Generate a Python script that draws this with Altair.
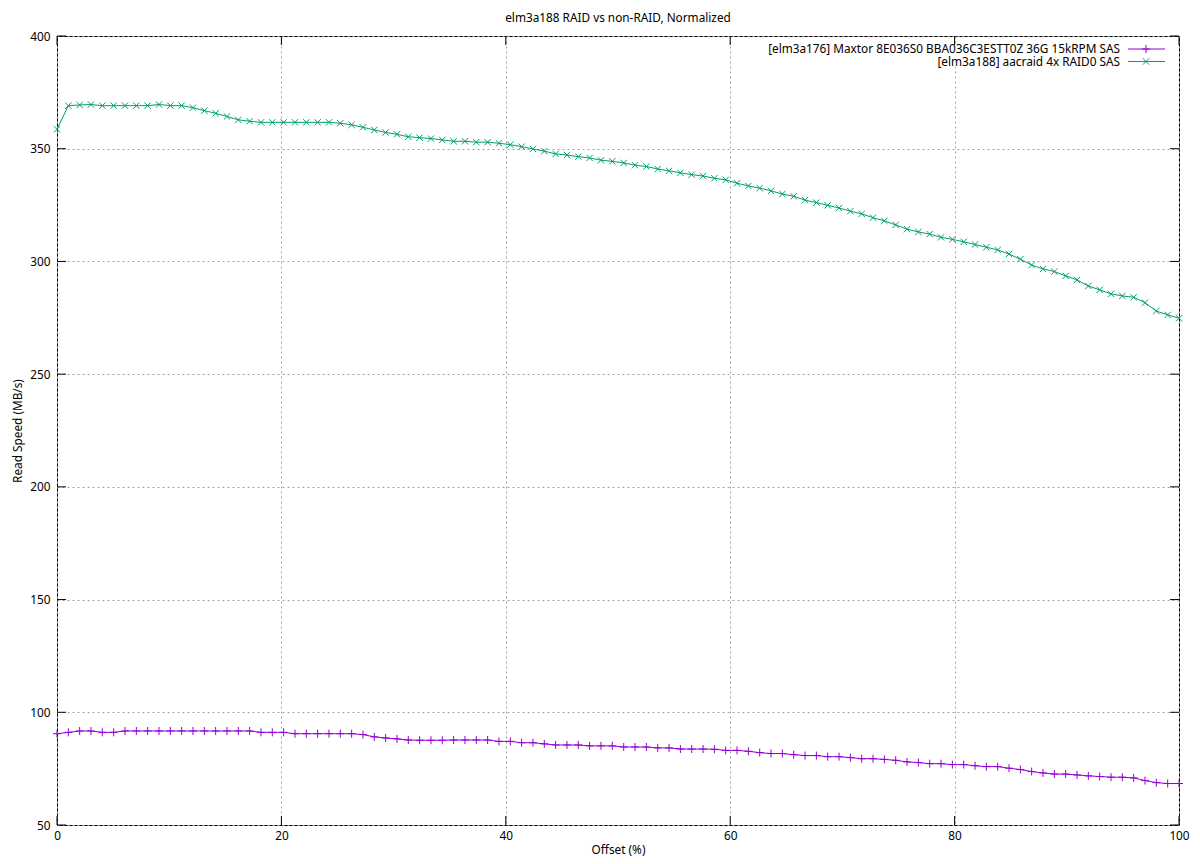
import altair as alt
import pandas as pd

TITLE = "elm3a188 RAID vs non-RAID, Normalized"
X_TITLE = "Offset (%)"
Y_TITLE = "Read Speed (MB/s)"

SERIES = [
    "[elm3a176] Maxtor 8E036S0 BBA036C3ESTT0Z 36G 15kRPM SAS",
    "[elm3a188] aacraid 4x RAID0 SAS",
]
COLORS = ["#9400d3", "#009e73"]

offsets = [
    0, 1.01, 2.02, 3.03, 4.04, 5.05, 6.06, 7.07, 8.08, 9.09,
    10.10, 11.11, 12.12, 13.13, 14.14, 15.15, 16.16, 17.17, 18.18, 19.19,
    20.20, 21.21, 22.22, 23.23, 24.24, 25.25, 26.26, 27.27, 28.28, 29.29,
    30.30, 31.31, 32.32, 33.33, 34.34, 35.35, 36.36, 37.37, 38.38, 39.39,
    40.40, 41.41, 42.42, 43.43, 44.44, 45.45, 46.46, 47.47, 48.48, 49.49,
    50.51, 51.52, 52.53, 53.54, 54.55, 55.56, 56.57, 57.58, 58.59, 59.60,
    60.61, 61.62, 62.63, 63.64, 64.65, 65.66, 66.67, 67.68, 68.69, 69.70,
    70.71, 71.72, 72.73, 73.74, 74.75, 75.76, 76.77, 77.78, 78.79, 79.80,
    80.81, 81.82, 82.83, 83.84, 84.85, 85.86, 86.87, 87.88, 88.89, 89.90,
    90.91, 91.92, 92.93, 93.94, 94.95, 95.96, 96.97, 97.98, 98.99, 100,
]

maxtor_speed = [
    90.5, 91.1, 91.7, 91.7, 91.1, 91.1, 91.7, 91.7, 91.7, 91.7,
    91.7, 91.7, 91.7, 91.7, 91.7, 91.7, 91.7, 91.7, 91.1, 91.1,
    91.1, 90.5, 90.5, 90.5, 90.5, 90.5, 90.5, 90.1, 89.1, 88.6,
    88.2, 87.7, 87.6, 87.6, 87.6, 87.7, 87.7, 87.7, 87.7, 87.1,
    87.1, 86.5, 86.5, 86.0, 85.5, 85.5, 85.5, 85.1, 85.1, 85.1,
    84.6, 84.6, 84.6, 84.2, 84.2, 83.7, 83.7, 83.7, 83.6, 83.1,
    83.1, 82.7, 82.1, 81.7, 81.7, 81.2, 80.8, 80.8, 80.3, 80.3,
    79.9, 79.4, 79.4, 79.1, 78.7, 78.0, 77.7, 77.2, 77.2, 76.8,
    76.8, 76.3, 75.9, 75.9, 75.2, 74.6, 73.7, 73.1, 72.6, 72.6,
    72.2, 71.8, 71.5, 71.2, 71.2, 70.9, 69.7, 68.8, 68.4, 68.4,
]

raid_speed = [
    358.6, 369.1, 369.4, 369.6, 369.1, 369.1, 369.1, 369.1, 369.1, 369.6,
    369.1, 369.1, 368.2, 366.9, 365.7, 364.3, 362.8, 362.2, 361.7, 361.7,
    361.7, 361.7, 361.7, 361.7, 361.7, 361.3, 360.6, 359.5, 358.3, 357.2,
    356.4, 355.3, 354.9, 354.5, 353.9, 353.3, 353.3, 352.9, 352.9, 352.4,
    351.8, 350.9, 349.9, 348.9, 347.7, 347.2, 346.5, 345.9, 344.9, 344.4,
    343.7, 342.7, 342.1, 341.0, 340.2, 339.3, 338.5, 337.9, 336.9, 336.2,
    334.7, 333.5, 332.5, 331.3, 329.9, 328.9, 327.2, 326.1, 324.9, 323.7,
    322.3, 321.1, 319.4, 318.0, 316.2, 314.3, 313.1, 312.1, 310.7, 309.8,
    308.7, 307.5, 306.3, 305.1, 303.3, 301.0, 298.4, 296.7, 295.5, 293.6,
    291.8, 289.1, 287.4, 285.6, 284.7, 284.1, 281.7, 278.0, 276.3, 274.8,
]

x_ticks = [0, 20, 40, 60, 80, 100]
y_ticks = [50, 100, 150, 200, 250, 300, 350, 400]

W, H = 1122, 789
FONT = "Noto Sans"
FS = 11.8
PLUS = "M-1,0L1,0M0,-1L0,1"
CROSS = "M-1,-1L1,1M-1,1L1,-1"
SHAPES = [PLUS, CROSS]
SIZES = [64, 40]

xs = alt.Scale(domain=[0, 100], nice=False, zero=False)
ys = alt.Scale(domain=[50, 400], nice=False, zero=False)

layers = []

ticks_x_df = pd.DataFrame({"t": x_ticks})
ticks_y_df = pd.DataFrame({"t": y_ticks})

# grid + axes carrier (invisible marks)
axes = alt.Chart(ticks_x_df).mark_point(opacity=0).encode(
    x=alt.X("t:Q", scale=xs, title=X_TITLE,
            axis=alt.Axis(values=x_ticks, format="d", labelPadding=5, titlePadding=3,
                          labelFlush=False)),
    y=alt.Y("y:Q", scale=ys, title=Y_TITLE,
            axis=alt.Axis(values=y_ticks, format="d", labelPadding=7, titlePadding=6,
                          labelFlush=False)),
).transform_calculate(y="100")
layers.append(axes)

# opaque key box (hides the grid behind the key, as gnuplot does)
bg = alt.Chart(pd.DataFrame({"k": [0]})).mark_rect(fill="white").encode(
    x=alt.value(706), x2=alt.value(1113), y=alt.value(9), y2=alt.value(31)
)
layers.append(bg)

# inward ticks on all four sides
tick_style = dict(color="black", strokeWidth=1)
layers.append(alt.Chart(ticks_y_df).mark_rule(**tick_style).encode(
    y=alt.Y("t:Q", scale=ys), x=alt.value(0), x2=alt.value(9)))
layers.append(alt.Chart(ticks_y_df).mark_rule(**tick_style).encode(
    y=alt.Y("t:Q", scale=ys), x=alt.value(W - 9), x2=alt.value(W)))
layers.append(alt.Chart(ticks_x_df).mark_rule(**tick_style).encode(
    x=alt.X("t:Q", scale=xs), y=alt.value(H - 9), y2=alt.value(H)))
layers.append(alt.Chart(ticks_x_df).mark_rule(**tick_style).encode(
    x=alt.X("t:Q", scale=xs), y=alt.value(0), y2=alt.value(9)))

series_values = [maxtor_speed, raid_speed]
legend_rows = [13, 25.5]

for k, name in enumerate(SERIES):
    df = pd.DataFrame({"offset": offsets, "speed": series_values[k]})
    base = alt.Chart(df).encode(
        x=alt.X("offset:Q", scale=xs), y=alt.Y("speed:Q", scale=ys)
    )
    layers.append(base.mark_line(color=COLORS[k], strokeWidth=1))
    layers.append(base.mark_point(shape=SHAPES[k], size=SIZES[k], filled=False,
                                  color=COLORS[k], strokeWidth=1, opacity=1))
    # legend entry (gnuplot-style key: text, then sample)
    ldf = pd.DataFrame({"series": [name]})
    ly = legend_rows[k]
    layers.append(alt.Chart(ldf).mark_text(
        align="right", baseline="middle", font=FONT, fontSize=FS, color="black"
    ).encode(text="series:N", x=alt.value(1063), y=alt.value(ly)))
    layers.append(alt.Chart(ldf).mark_rule(color=COLORS[k], strokeWidth=1).encode(
        x=alt.value(1071), x2=alt.value(1108), y=alt.value(ly)))
    layers.append(alt.Chart(ldf).mark_point(
        shape=SHAPES[k], size=SIZES[k], filled=False, color=COLORS[k], strokeWidth=1, opacity=1
    ).encode(x=alt.value(1089), y=alt.value(ly)))

chart = alt.layer(*layers).properties(
    width=W,
    height=H,
    title=alt.TitleParams(TITLE, font=FONT, fontSize=FS, fontWeight="normal",
                          color="black", anchor="middle", offset=6),
    autosize=alt.AutoSizeParams(type="none"),
    padding={"left": 49, "top": 28, "right": 13, "bottom": 34},
).configure_view(
    stroke="black", strokeWidth=1
).configure_axis(
    grid=True, gridColor="#a0a0a0", gridDash=[2, 3], gridWidth=1, gridOpacity=1,
    domain=False, ticks=False,
    labelFont=FONT, labelFontSize=FS, labelColor="black",
    titleFont=FONT, titleFontSize=FS, titleFontWeight="normal", titleColor="black",
)

chart.save("out.html", embed_options={"renderer": "svg", "actions": False})
